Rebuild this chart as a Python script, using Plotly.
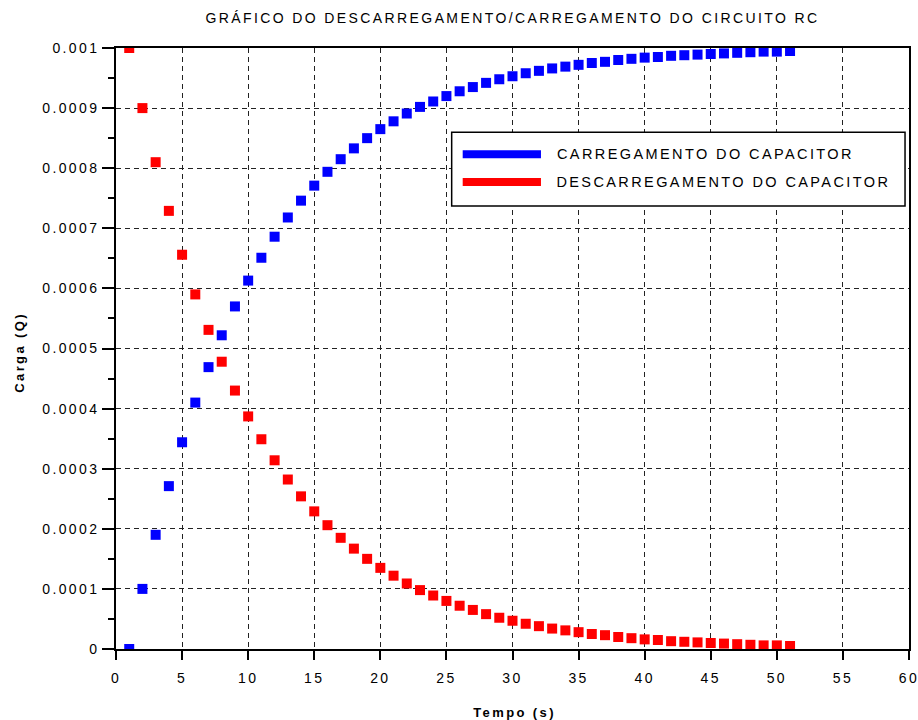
import plotly.graph_objects as go

# Tempo (s)
tempo = [1, 2, 3, 4, 5, 6, 7, 8, 9, 10, 11, 12, 13, 14, 15, 16, 17, 18, 19, 20,
         21, 22, 23, 24, 25, 26, 27, 28, 29, 30, 31, 32, 33, 34, 35, 36, 37, 38,
         39, 40, 41, 42, 43, 44, 45, 46, 47, 48, 49, 50, 51]

# Carga do capacitor durante o carregamento (C)
carregamento = [0.0, 0.0001, 0.00019, 0.000271, 0.000344, 0.00041, 0.000469,
                0.000522, 0.00057, 0.000613, 0.000651, 0.000686, 0.000718,
                0.000746, 0.000771, 0.000794, 0.000815, 0.000833, 0.00085,
                0.000865, 0.000878, 0.000891, 0.000902, 0.000911, 0.00092,
                0.000928, 0.000935, 0.000942, 0.000948, 0.000953, 0.000958,
                0.000962, 0.000966, 0.000969, 0.000972, 0.000975, 0.000977,
                0.00098, 0.000982, 0.000984, 0.000985, 0.000987, 0.000988,
                0.000989, 0.00099, 0.000991, 0.000992, 0.000993, 0.000994,
                0.000994, 0.000995]

# Carga do capacitor durante o descarregamento (C)
descarregamento = [0.001, 0.0009, 0.00081, 0.000729, 0.000656, 0.00059, 0.000531,
                   0.000478, 0.00043, 0.000387, 0.000349, 0.000314, 0.000282,
                   0.000254, 0.000229, 0.000206, 0.000185, 0.000167, 0.00015,
                   0.000135, 0.000122, 0.000109, 0.000098, 0.000089, 0.00008,
                   0.000072, 0.000065, 0.000058, 0.000052, 0.000047, 0.000042,
                   0.000038, 0.000034, 0.000031, 0.000028, 0.000025, 0.000023,
                   0.00002, 0.000018, 0.000016, 0.000015, 0.000013, 0.000012,
                   0.000011, 0.00001, 0.000009, 0.000008, 0.000007, 0.000006,
                   0.000006, 0.000005]

x_ticks = [0, 5, 10, 15, 20, 25, 30, 35, 40, 45, 50, 55, 60]
y_ticks = [0, 0.0001, 0.0002, 0.0003, 0.0004, 0.0005, 0.0006, 0.0007, 0.0008,
           0.0009, 0.001]
y_tick_labels = ["0", "0.0001", "0.0002", "0.0003", "0.0004", "0.0005",
                 "0.0006", "0.0007", "0.0008", "0.0009", "0.001"]

nomes = ["CARREGAMENTO DO CAPACITOR", "DESCARREGAMENTO DO CAPACITOR"]
cores = ["#0000ff", "#ff0000"]

FONT = "Liberation Sans, Arial, Helvetica, sans-serif"
TXT = "#000000"

fig = go.Figure()
fig.add_trace(go.Scatter(x=tempo, y=carregamento, mode="markers", name=nomes[0],
                         marker=dict(symbol="square", size=10, color=cores[0],
                                     line=dict(width=0)),
                         cliponaxis=True))
fig.add_trace(go.Scatter(x=tempo, y=descarregamento, mode="markers", name=nomes[1],
                         marker=dict(symbol="square", size=10, color=cores[1],
                                     line=dict(width=0)),
                         cliponaxis=True))

grid = dict(showgrid=True, gridcolor="#222222", gridwidth=1, griddash="5px,4px",
            zeroline=False, showline=True, linecolor="black", linewidth=1.5,
            mirror=True, ticks="outside", tickcolor="black", tickwidth=1.5,
            automargin=False,
            tickfont=dict(family=FONT, size=14, color=TXT))

fig.update_xaxes(range=[0, 60], tickvals=x_ticks, ticklen=9,
                 ticklabelstandoff=6, **grid)
fig.update_yaxes(range=[0, 0.001], tickvals=y_ticks, ticktext=y_tick_labels,
                 ticklen=12,
                 minor=dict(ticks="outside", ticklen=6, dtick=0.00005,
                            tickcolor="black", tickwidth=1.5, showgrid=False),
                 **grid)

# Legend box drawn in paper coordinates
leg_x0, leg_x1, leg_y0, leg_y1 = 0.4233, 0.995, 0.7371, 0.8597
fig.add_shape(type="rect", xref="paper", yref="paper", x0=leg_x0, x1=leg_x1,
              y0=leg_y0, y1=leg_y1, fillcolor="white",
              line=dict(color="black", width=1.5), layer="above")
for nome, cor, ly, cx in zip(nomes, cores, [0.8231, 0.777], [0.744, 0.7661]):
    fig.add_shape(type="line", xref="paper", yref="paper", x0=0.4372, x1=0.5359,
                  y0=ly, y1=ly, line=dict(color=cor, width=8), layer="above")
    fig.add_annotation(xref="paper", yref="paper", x=cx, y=ly, text=nome,
                       showarrow=False, xanchor="center", yanchor="middle",
                       font=dict(family=FONT, size=14.5, color=TXT))

# Axis titles
fig.add_annotation(xref="paper", yref="paper", x=0.503, y=-0.105, text="<b>Tempo (s)</b>",
                   showarrow=False, xanchor="center", yanchor="middle",
                   font=dict(family=FONT, size=13, color=TXT))
fig.add_annotation(xref="paper", yref="paper", x=-0.1225, y=0.494, text="<b>Carga (Q)</b>",
                   textangle=-90, showarrow=False, xanchor="center",
                   yanchor="middle", font=dict(family=FONT, size=13, color=TXT))

fig.update_layout(
    width=918, height=720,
    margin=dict(l=116, r=9, t=48, b=71, autoexpand=False),
    paper_bgcolor="white", plot_bgcolor="white",
    showlegend=False,
    title=dict(text="GRÁFICO DO DESCARREGAMENTO/CARREGAMENTO DO CIRCUITO RC",
               x=0.5, xref="paper", xanchor="center",
               y=1 - 18 / 720, yref="container", yanchor="middle",
               font=dict(family=FONT, size=14, color=TXT)),
)

# Page without body margin or scrollbars; wide letter spacing for chart text
page_css = (
    "var s=document.createElement('style');"
    "s.textContent='html,body{margin:0;padding:0;overflow:hidden}"
    ".js-plotly-plot .main-svg text{letter-spacing:2.4px}';"
    "document.head.appendChild(s);"
)

fig.write_html("out.html", post_script=page_css)
